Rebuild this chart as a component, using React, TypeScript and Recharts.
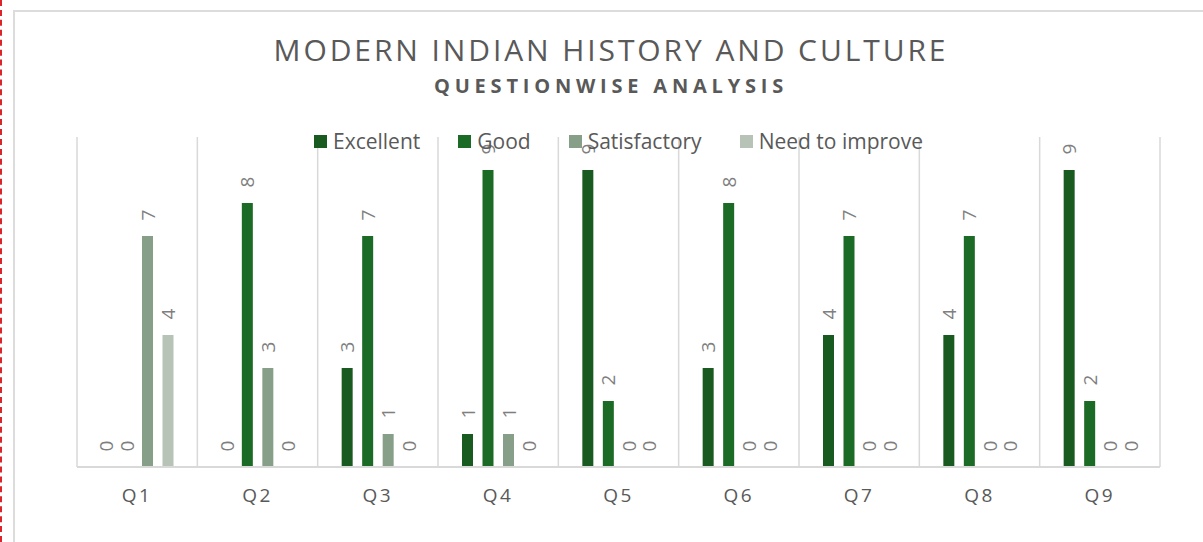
import { BarChart, Bar, XAxis, YAxis, CartesianGrid, Legend, LabelList } from 'recharts'

const categories = ['Q1', 'Q2', 'Q3', 'Q4', 'Q5', 'Q6', 'Q7', 'Q8', 'Q9']
const excellent = [0, 0, 3, 1, 9, 3, 4, 4, 9]
const good = [0, 8, 7, 9, 2, 8, 7, 7, 2]
const satisfactory = [7, 3, 1, 1, 0, 0, 0, 0, 0]
const needToImprove = [4, 0, 0, 0, 0, 0, 0, 0, 0]

const SERIES = [
  { key: 'excellent', name: 'Excellent', color: '#195a21' },
  { key: 'good', name: 'Good', color: '#1b6a25' },
  { key: 'satisfactory', name: 'Satisfactory', color: '#879f88' },
  { key: 'needToImprove', name: 'Need to improve', color: '#b6c3b6' },
]

const data = categories.map((q, i) => ({
  q,
  excellent: excellent[i],
  good: good[i],
  satisfactory: satisfactory[i],
  needToImprove: needToImprove[i],
}))

const FONT = '"Open Sans", sans-serif'

function ValueLabel(props: any) {
  const { x, y, width, height, value } = props
  const cx = x + width / 2
  // zero bars get a tiny min size, so anchor at the bar top either way
  const top = Math.min(y, y + height)
  const cy = top - 21
  return (
    <text x={cx} y={cy} transform={`rotate(-90 ${cx} ${cy})`} textAnchor="middle" dominantBaseline="central"
      fill="#7f7f7f" fontSize={19} fontFamily={FONT}>
      {value}
    </text>
  )
}

function QTick({ x, y, payload }: any) {
  return (
    <text x={x} y={y + 20} textAnchor="middle" dominantBaseline="central" fill="#595959"
      fontSize={19} fontFamily={FONT} letterSpacing={2.5}>
      {payload.value}
    </text>
  )
}

function LegendRow() {
  return (
    <div style={{ display: 'flex', justifyContent: 'center', gap: 38, fontFamily: FONT, fontSize: 21, color: '#595959' }}>
      {SERIES.map(s => (
        <span key={s.key} style={{ display: 'flex', alignItems: 'center', gap: 6 }}>
          <span style={{ width: 13, height: 13, background: s.color, display: 'inline-block' }} />
          {s.name}
        </span>
      ))}
    </div>
  )
}

export default function App() {
  return (
    <div style={{ position: 'absolute', left: 0, top: 0, width: 1203, height: 542, background: '#fff', overflow: 'hidden' }}>
      <div style={{ position: 'absolute', left: 0, top: 0, height: 542, borderLeft: '2px dashed #d9262b' }} />
      <div style={{ position: 'absolute', left: 13, top: 10, width: 1300, height: 700, border: '2px solid #dcdcdc' }} />
      <div style={{ position: 'absolute', left: 14, width: 1194, top: 29, textAlign: 'center', fontFamily: FONT,
        fontSize: 30, fontWeight: 400, letterSpacing: 2.9, color: '#595959' }}>
        MODERN INDIAN HISTORY AND CULTURE
      </div>
      <div style={{ position: 'absolute', left: 14, width: 1194, top: 72, textAlign: 'center', fontFamily: FONT,
        fontSize: 20, fontWeight: 700, letterSpacing: 4.8, color: '#595959' }}>
        QUESTIONWISE ANALYSIS
      </div>
      <BarChart width={1203} height={542} data={data} margin={{ top: 137, right: 43, bottom: 35, left: 77 }}
        barSize={11} barGap={9.5} style={{ position: 'absolute', left: 0, top: 0 }}>
        <CartesianGrid horizontal={false} stroke="#d9d9d9" strokeWidth={1.5}
          verticalCoordinatesGenerator={({ offset }: any) =>
            Array.from({ length: categories.length + 1 }, (_, i) => offset.left + (i * offset.width) / categories.length)} />
        <XAxis dataKey="q" height={40} axisLine={{ stroke: '#d9d9d9', strokeWidth: 2 }} tickLine={false} tick={<QTick />} />
        <YAxis hide domain={[0, 10]} />
        <Legend verticalAlign="middle" align="center" content={<LegendRow />}
          wrapperStyle={{ top: 127, left: 77, width: 1083 }} />
        {SERIES.map(s => (
          <Bar key={s.key} dataKey={s.key} name={s.name} fill={s.color} minPointSize={0.01} isAnimationActive={false}>
            <LabelList dataKey={s.key} content={<ValueLabel />} />
          </Bar>
        ))}
      </BarChart>
    </div>
  )
}
